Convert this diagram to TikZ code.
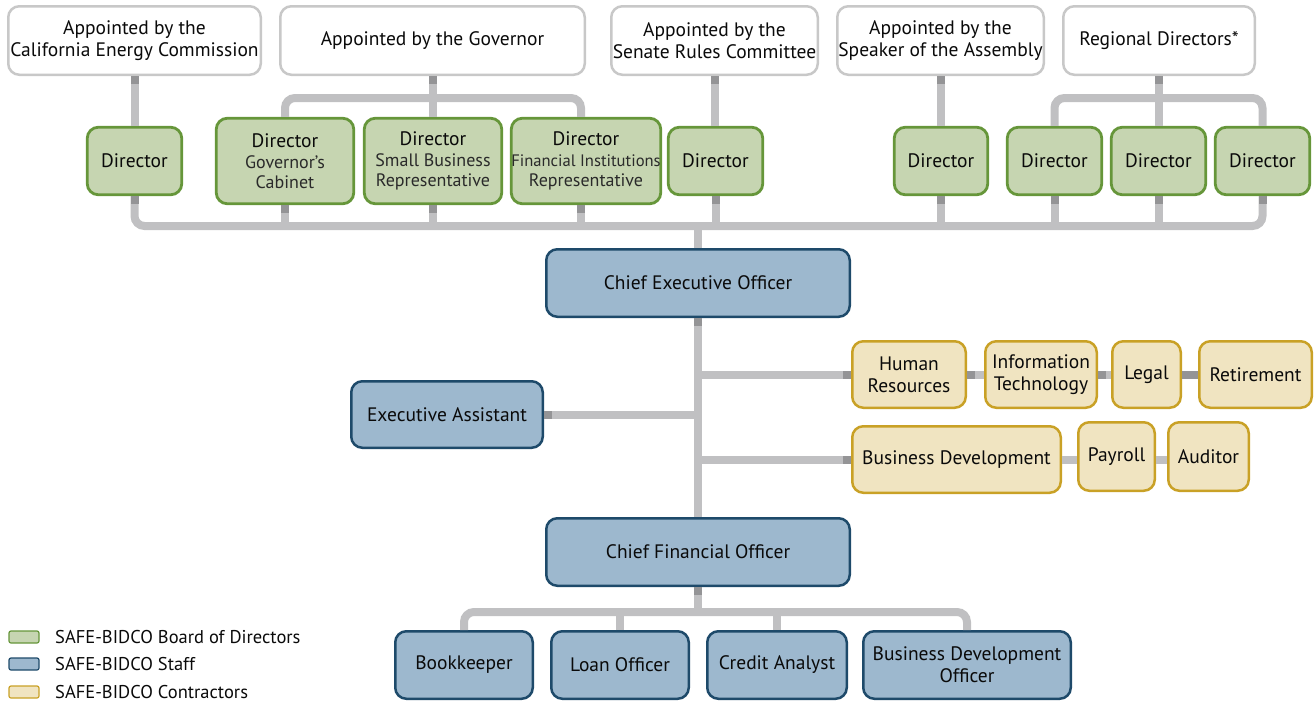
\documentclass[tikz,border=0pt]{standalone}
\usepackage{fontspec}
\setmainfont{PT Sans}
\definecolor{gf}{HTML}{C6D5B1}
\definecolor{gb}{HTML}{66963A}
\definecolor{bf}{HTML}{9DB8CE}
\definecolor{bb}{HTML}{1E4A6A}
\definecolor{yf}{HTML}{F0E4C1}
\definecolor{yb}{HTML}{C9A126}
\definecolor{topb}{HTML}{C8C8C8}
\definecolor{lg}{HTML}{C0C0C2}
\definecolor{dg}{HTML}{949496}
\definecolor{txt}{HTML}{0A0A0A}
\definecolor{subc}{HTML}{2A2A2A}
\newcommand\fs[2]{\fontsize{#1}{#2}\selectfont}
\newcommand\subt[1]{{\fs{18}{19}\color{subc}#1}}
\newcommand\subtn[1]{{\fs{16.6}{19}\color{subc}#1}}
\newcommand\bx[7]{\node[#2, minimum width={(#5-#3-2.5)*1pt}, minimum height={(#6-#4-2.5)*1pt}] (#1) at ({(#3+#5)/2},{(#4+#6)/2}) {#7};}
\tikzset{
  base/.style={rounded corners=11pt, inner sep=0pt, align=center, font=\fs{19.5}{22}, text=txt},
  topbox/.style={base, draw=topb, line width=2.5pt, fill=white},
  dirbox/.style={base, draw=gb, fill=gf, line width=2.8pt},
  staffbox/.style={base, draw=bb, fill=bf, line width=2.5pt},
  conbox/.style={base, draw=yb, fill=yf, line width=2.5pt},
  conn/.style={draw=lg, line width=8pt},
  stub/.style={draw=dg, line width=8pt},
  legbox/.style={rounded corners=2pt, line width=1.2pt, minimum width=30pt, minimum height=12pt, inner sep=0pt},
  legtxt/.style={anchor=west, font=\fs{18.5}{20}, text=txt, inner sep=0pt},
}
\begin{document}
\begin{tikzpicture}[x=1pt,y=-1pt]
\useasboundingbox (0,0) rectangle (1315,705);
\coordinate (govy) at (0,98);
\coordinate (busy) at (0,226);
\coordinate (sby) at (0,612);
% top row
\bx{CEC}{topbox}{7}{5}{262}{76}{Appointed by the\\California Energy Commission}
\bx{GOV}{topbox}{279}{5}{586}{76}{Appointed by the Governor}
\bx{SEN}{topbox}{610}{5}{819}{76}{Appointed by the\\Senate Rules Committee}
\bx{SPK}{topbox}{836}{5}{1045}{76}{Appointed by the\\Speaker of the Assembly}
\bx{REG}{topbox}{1062}{5}{1256}{76}{Regional Directors*}
% directors
\bx{D1}{dirbox}{86}{126}{183}{196}{Director}
\bx{D2}{dirbox}{215}{117}{355}{205}{Director\\[-1pt]\subt{Governor’s}\\[-2pt]\subt{Cabinet}}
\bx{D3}{dirbox}{363}{117}{503}{205}{Director\\[-1pt]\subt{Small Business}\\[-2pt]\subt{Representative}}
\bx{D4}{dirbox}{511}{117}{661}{205}{Director\\[-1pt]\subtn{Financial Institutions}\\[-2pt]\subt{Representative}}
\bx{D5}{dirbox}{667}{126}{764}{196}{Director}
\bx{D6}{dirbox}{893}{126}{989}{196}{Director}
\bx{D7}{dirbox}{1006}{126}{1103}{196}{Director}
\bx{D8}{dirbox}{1110}{126}{1207}{196}{Director}
\bx{D9}{dirbox}{1214}{126}{1311}{196}{Director}
% staff
\bx{CEO}{staffbox}{545}{248}{851}{318}{Chief Executive Officer}
\bx{EA}{staffbox}{350}{380}{544}{449}{Executive Assistant}
\bx{CFO}{staffbox}{545}{517}{851}{587}{Chief Financial Officer}
\bx{BK}{staffbox}{394}{630}{534}{700}{Bookkeeper}
\bx{LO}{staffbox}{550}{630}{690}{700}{Loan Officer}
\bx{CA}{staffbox}{706}{630}{848}{700}{Credit Analyst}
\bx{BDO}{staffbox}{862}{630}{1072}{700}{Business Development\\Officer}
% contractors
\bx{HR}{conbox}{851}{340}{967}{409}{Human\\Resources}
\bx{IT}{conbox}{984}{340}{1098}{409}{Information\\Technology}
\bx{LEG}{conbox}{1111}{340}{1182}{409}{Legal}
\bx{RET}{conbox}{1198}{340}{1313}{409}{Retirement}
\bx{BD}{conbox}{851}{425}{1062}{494}{Business Development}
\bx{PAY}{conbox}{1077}{421}{1156}{492}{Payroll}
\bx{AUD}{conbox}{1167}{421}{1250}{492}{Auditor}
% appointer links
\draw[conn] (CEC.south) -- (CEC.south |- D1.north);
\draw[conn] (SEN.south) -- (SEN.south |- D5.north);
\draw[conn] (SPK.south) -- (SPK.south |- D6.north);
\draw[conn] (GOV.south) -- (GOV.south |- D3.north);
\draw[conn] (REG.south) -- (REG.south |- D8.north);
\draw[conn, rounded corners=10pt] (D2.north) -- (D2.north |- govy) -- ([xshift=-5pt]D4.north |- govy) -- ([xshift=-5pt]D4.north);
\draw[conn, rounded corners=10pt] (D7.north) -- (D7.north |- govy) -- (D9.north |- govy) -- (D9.north);
% board bus
\draw[conn, rounded corners=10pt] (D1.south) -- (D1.south |- busy) -- (D9.south |- busy) -- (D9.south);
\foreach \n in {D2,D3,D5,D6,D7,D8} \draw[conn] (\n.south) -- (\n.south |- busy);
\draw[conn] ([xshift=-5pt]D4.south) -- ([xshift=-5pt]D4.south |- busy);
\draw[conn] (CEO.north) -- (CEO.north |- busy);
% CEO trunk
\draw[conn] (CEO.south) -- (CFO.north);
\draw[conn] (HR.west) -- (HR.west -| CEO.south);
\draw[conn] (BD.west) -- (BD.west -| CEO.south);
\draw[conn] (EA.east) -- (EA.east -| CEO.south);
\draw[conn] (HR.east) -- (IT.west);
\draw[conn] (IT.east) -- (LEG.west);
\draw[conn] (LEG.east) -- (RET.west);
\draw[conn] (BD.east) -- (BD.east -| PAY.west);
\draw[conn] (PAY.east |- BD.east) -- (BD.east -| AUD.west);
% CFO bus
\draw[conn] (CFO.south) -- (CFO.south |- sby);
\draw[conn, rounded corners=10pt] (BK.north) -- (BK.north |- sby) -- (BDO.north |- sby) -- (BDO.north);
\draw[conn] (LO.north) -- (LO.north |- sby);
\draw[conn] (CA.north) -- (CA.north |- sby);
% dark stubs
\foreach \n in {CEC,GOV,SEN,SPK,REG,D1,D2,D3,D5,D6,D7,D8,D9,CEO,CFO} \draw[stub] (\n.south) -- ++(0,8);
\draw[stub] ([xshift=-5pt]D4.south) -- ++(0,8);
\draw[stub] (EA.east) -- ++(8,0);
\draw[stub] (HR.west) -- ++(-8,0);
\draw[stub] (BD.west) -- ++(-8,0);
\draw[stub] (HR.east) -- ++(8,0);
\draw[stub] (IT.east) -- ++(8,0);
\draw[stub] (LEG.east) -- (RET.west);
% legend
\node[legbox, draw=gb, fill=gf] (L1) at (24,637) {};
\node[legbox, draw=bb, fill=bf] (L2) at (24,664) {};
\node[legbox, draw=yb, fill=yf] (L3) at (24,692) {};
\node[legtxt] (T1) at (55,637) {SAFE-BIDCO Board of Directors};
\node[legtxt] (T2) at (55,664) {SAFE-BIDCO Staff};
\node[legtxt] (T3) at (55,692) {SAFE-BIDCO Contractors};
\end{tikzpicture}
\end{document}
